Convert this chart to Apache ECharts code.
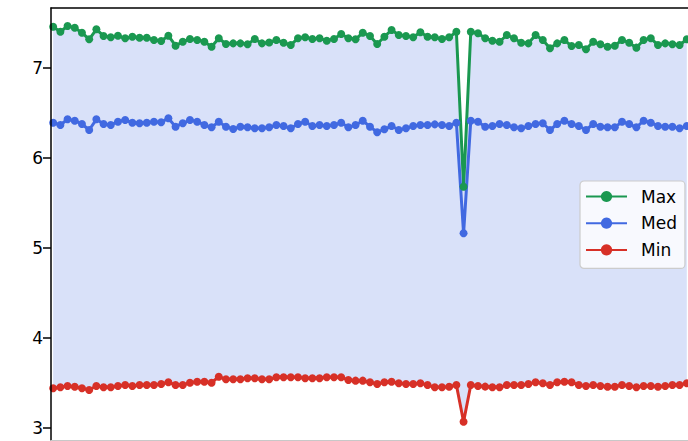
<!DOCTYPE html>
<html>
<head>
<meta charset="utf-8">
<script src="https://cdn.jsdelivr.net/npm/echarts@6/dist/echarts.min.js"></script>
<style>
html,body{margin:0;padding:0;background:#fff;overflow:hidden;width:688px;height:441px;}
#c{width:740px;height:470px;}
</style>
</head>
<body>
<div id="c"></div>
<script>
const seriesNames = ['Max', 'Med', 'Min'];
const yTicks = [3, 4, 5, 6, 7];
const maxVals = [7.459,7.403,7.467,7.448,7.392,7.319,7.430,7.356,7.341,7.359,
7.330,7.348,7.337,7.337,7.311,7.300,7.359,7.248,7.292,7.322,
7.311,7.292,7.237,7.330,7.267,7.274,7.274,7.263,7.322,7.274,
7.283,7.311,7.281,7.256,7.330,7.341,7.322,7.330,7.303,7.322,
7.378,7.330,7.319,7.392,7.356,7.267,7.348,7.422,7.367,7.356,
7.341,7.397,7.348,7.341,7.322,7.341,7.403,5.68,7.403,7.386,
7.330,7.303,7.292,7.367,7.330,7.281,7.274,7.367,7.311,7.219,
7.274,7.311,7.244,7.256,7.208,7.292,7.263,7.237,7.248,7.311,
7.281,7.226,7.311,7.330,7.256,7.274,7.263,7.256,7.319];
const medVals = [6.392,6.367,6.430,6.414,6.378,6.311,6.430,6.378,6.367,6.403,
6.422,6.392,6.386,6.392,6.403,6.397,6.441,6.348,6.386,6.422,
6.403,6.367,6.341,6.403,6.348,6.322,6.348,6.341,6.330,6.330,
6.341,6.367,6.356,6.330,6.378,6.403,6.356,6.367,6.356,6.367,
6.392,6.341,6.367,6.414,6.348,6.286,6.319,6.356,6.311,6.330,
6.356,6.367,6.367,6.374,6.367,6.356,6.392,5.163,6.414,6.403,
6.348,6.356,6.378,6.367,6.341,6.330,6.356,6.378,6.386,6.311,
6.378,6.414,6.378,6.356,6.311,6.378,6.348,6.341,6.341,6.403,
6.378,6.341,6.414,6.392,6.356,6.348,6.348,6.330,6.356];
const minVals = [3.441,3.452,3.467,3.459,3.441,3.422,3.467,3.452,3.452,3.467,
3.478,3.467,3.478,3.478,3.478,3.489,3.508,3.478,3.478,3.503,
3.514,3.514,3.503,3.570,3.541,3.541,3.541,3.552,3.552,3.541,
3.541,3.563,3.563,3.563,3.563,3.552,3.552,3.552,3.563,3.563,
3.563,3.533,3.526,3.526,3.508,3.489,3.508,3.514,3.497,3.489,
3.489,3.497,3.478,3.452,3.452,3.459,3.478,3.070,3.478,3.467,
3.460,3.452,3.452,3.478,3.478,3.478,3.489,3.508,3.497,3.478,
3.508,3.514,3.508,3.478,3.467,3.478,3.467,3.459,3.459,3.478,
3.467,3.452,3.467,3.467,3.459,3.467,3.478,3.478,3.497];

const colors = {Max:'#1a9850', Med:'#4169e1', Min:'#d73027'};
const bandColor = '#d9e1f9';
const idx = maxVals.map((_, i) => i);
const pts = arr => arr.map((v, i) => [idx[i], v]);

function lineSeries(name, arr) {
  return {
    name: name, type: 'line', data: pts(arr),
    symbol: 'circle', symbolSize: 8, showSymbol: true, showAllSymbol: true,
    lineStyle: {color: colors[name], width: 3},
    itemStyle: {color: colors[name]},
    emphasis: {disabled: true}, animation: false, z: 6
  };
}

const chart = echarts.init(document.getElementById('c'), null, {renderer: 'svg'});
chart.setOption({
  animation: false,
  backgroundColor: '#ffffff',
  grid: {left: 51, top: 8, width: 664.6, height: 432, show: false},
  xAxis: [{
    type: 'value', min: -0.3, max: 92, position: 'bottom', z: 10,
    axisLine: {show: true, onZero: false, lineStyle: {color: '#c8c8c8', width: 1}},
    axisTick: {show: false}, axisLabel: {show: false}, splitLine: {show: false}, splitArea: {show: false}
  }, {
    type: 'value', min: -0.3, max: 92, position: 'top', z: 10,
    axisLine: {show: true, onZero: false, lineStyle: {color: '#000', width: 1.5}},
    axisTick: {show: false}, axisLabel: {show: false}, splitLine: {show: false}, splitArea: {show: false}
  }],
  yAxis: {
    type: 'value', min: 2.8667, max: 7.6667, z: 10,
    axisLine: {show: true, onZero: false, lineStyle: {color: '#000', width: 1.5}},
    axisTick: {show: true, length: 8, customValues: yTicks, lineStyle: {color: '#000', width: 1.5}},
    axisLabel: {show: true, customValues: yTicks, margin: 8, color: '#000', fontSize: 17, fontFamily: 'DejaVu Sans'},
    splitLine: {show: false}, splitArea: {show: false}
  },
  legend: {
    data: seriesNames, orient: 'vertical', left: 580, top: 181, z: 20,
    padding: [7, 8, 10, 5], itemGap: 9.7, itemWidth: 41, itemHeight: 14,
    backgroundColor: 'rgba(255,255,255,0.8)', borderColor: '#cccccc', borderWidth: 1.2, borderRadius: 4,
    textStyle: {color: '#000', fontSize: 17, fontFamily: 'DejaVu Sans', lineHeight: 17, padding: [0, 0, 0, 9]}
  },
  series: [
    {
      name: 'band', type: 'custom', silent: true, z: 1, clip: false,
      data: [[0, 5]],
      renderItem: function (params, api) {
        const upper = maxVals.map((v, i) => api.coord([idx[i], v]));
        const lower = minVals.map((v, i) => api.coord([idx[i], v]));
        lower.reverse();
        return {
          type: 'polygon',
          shape: {points: upper.concat(lower)},
          style: {fill: bandColor, stroke: null, lineWidth: 0}
        };
      }
    },
    lineSeries('Max', maxVals),
    lineSeries('Med', medVals),
    lineSeries('Min', minVals)
  ]
});
</script>
</body>
</html>
